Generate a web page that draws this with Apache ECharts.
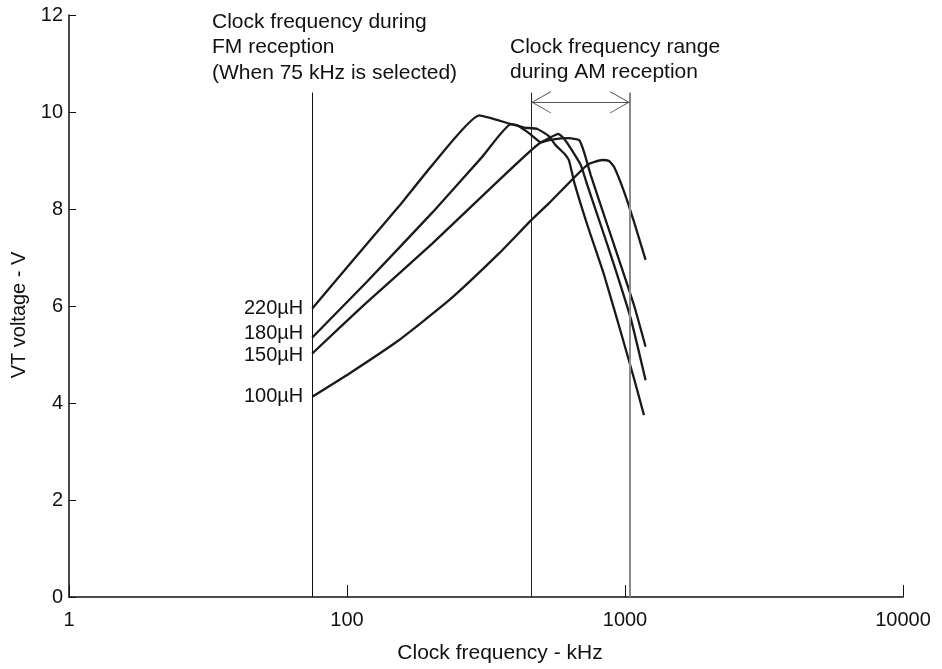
<!DOCTYPE html>
<html>
<head>
<meta charset="utf-8">
<script src="https://cdn.jsdelivr.net/npm/echarts@6/dist/echarts.min.js"></script>
<style>
html,body{margin:0;padding:0;background:#fff;}
#chart{width:942px;height:669px;}
</style>
</head>
<body>
<div id="chart"></div>
<script>
// ---- data ----
const xTickValues = [10, 100, 1000, 10000];
const xTickLabels = ['1', '100', '1000', '10000'];
const yMin = 0, yMax = 12, yStep = 2;

const seriesNames = ['220µH', '180µH', '150µH', '100µH'];

const freq220 = [75, 117, 154, 203, 299, 389, 434, 484, 533, 560, 610, 629, 656, 732, 841, 965, 1077, 1170];
const volt220 = [5.95, 7.26, 8.06, 8.91, 9.93, 9.75, 9.68, 9.65, 9.50, 9.33, 9.12, 9.00, 8.56, 7.67, 6.64, 5.47, 4.51, 3.75];

const freq180 = [75, 117, 203, 307, 389, 411, 455, 498, 540, 575, 604, 638, 693, 732, 818, 913, 1048, 1186];
const volt180 = [5.35, 6.48, 7.93, 9.08, 9.75, 9.72, 9.55, 9.38, 9.48, 9.55, 9.45, 9.25, 8.91, 8.49, 7.67, 6.85, 5.75, 4.47];

const freq150 = [75, 117, 203, 353, 491, 560, 629, 684, 712, 753, 864, 965, 1077, 1186];
const volt150 = [5.02, 6.06, 7.29, 8.60, 9.35, 9.44, 9.46, 9.42, 9.18, 8.70, 7.67, 6.85, 6.02, 5.16];

const freq100 = [75, 102, 154, 233, 353, 460, 533, 732, 829, 876, 913, 992, 1077, 1186];
const volt100 = [4.13, 4.61, 5.30, 6.12, 7.09, 7.77, 8.12, 8.91, 9.01, 8.99, 8.87, 8.36, 7.74, 6.95];

const fmClock = 75;            // kHz
const amRange = [460, 1040];   // kHz
const markerTop = 10.4;        // V, top of the marker lines
const arrowLevel = 10.2;       // V, level of the range arrow

const fmNote = ['Clock frequency during', 'FM reception', '(When 75 kHz is selected)'];
const amNote = ['Clock frequency range', 'during AM reception'];

// ---- chart ----
const FONT = "'Liberation Sans', Arial, sans-serif";
const INK = '#1a1a1a';
const chevron = 'path://M50,0 L100,97 L97,100 L50,9 L3,100 L0,97 Z M50,-100 L50.01,-100 Z';
const labelShift = [0, -4, 2, 0];

function pairs(fs, vs, name, k) {
  return fs.map((f, i) => {
    const item = { value: [f, vs[i]] };
    if (i === 0) {
      item.label = {
        show: true, position: 'left', distance: 9, offset: [0, labelShift[k]],
        formatter: name, color: '#111', fontSize: 20, fontFamily: FONT
      };
    }
    return item;
  });
}

const curveSets = [[freq220, volt220], [freq180, volt180], [freq150, volt150], [freq100, volt100]];

const series = curveSets.map((c, k) => ({
  name: seriesNames[k],
  type: 'line',
  data: pairs(c[0], c[1], seriesNames[k], k),
  smooth: 0.15,
  symbol: 'circle',
  symbolSize: 0,
  showSymbol: true,
  showAllSymbol: true,
  lineStyle: { color: INK, width: 2.3 },
  itemStyle: { color: INK },
  label: { show: false },
  emphasis: { disabled: true },
  silent: true,
  z: 3
}));

series.push({
  name: 'markers',
  type: 'line',
  data: [],
  silent: true,
  markLine: {
    silent: true,
    animation: false,
    symbol: ['none', 'none'],
    label: { show: false },
    emphasis: { disabled: true },
    data: [
      [{ coord: [fmClock, yMin], lineStyle: { color: '#111', width: 1, type: 'solid' } },
       { coord: [fmClock, markerTop] }],
      [{ coord: [amRange[0], yMin], lineStyle: { color: '#222', width: 1, type: 'solid' } },
       { coord: [amRange[0], markerTop] }],
      [{ coord: [amRange[1], yMin], lineStyle: { color: '#8a8a8a', width: 2, type: 'solid' } },
       { coord: [amRange[1], markerTop] }],
      [{ coord: [amRange[0], arrowLevel], symbol: chevron, symbolSize: [22, 40],
         lineStyle: { color: '#555', width: 1.2, type: 'solid' } },
       { coord: [amRange[1], arrowLevel], symbol: chevron, symbolSize: [22, 40] }]
    ]
  }
});

const chart = echarts.init(document.getElementById('chart'), null, { renderer: 'canvas' });
chart.setOption({
  backgroundColor: '#fff',
  animation: false,
  textStyle: { fontFamily: FONT },
  grid: { left: 69, right: 39, top: 15, bottom: 72, containLabel: false },
  xAxis: {
    type: 'log',
    logBase: 10,
    min: xTickValues[0],
    max: xTickValues[xTickValues.length - 1],
    name: 'Clock frequency - kHz',
    nameLocation: 'middle',
    nameGap: 46,
    nameTextStyle: { color: '#111', fontSize: 21, fontFamily: FONT, padding: [0, 0, 0, 28] },
    axisLine: { show: true, onZero: false, lineStyle: { color: '#111', width: 1.5 } },
    axisTick: { show: true, inside: true, length: 12, lineStyle: { color: '#111', width: 1 } },
    minorTick: { show: false },
    splitLine: { show: false },
    axisLabel: {
      color: '#111', fontSize: 20, fontFamily: FONT, margin: 13,
      formatter: v => {
        const i = xTickValues.findIndex(t => Math.abs(Math.log10(t) - Math.log10(v)) < 1e-6);
        return i >= 0 ? xTickLabels[i] : '';
      }
    }
  },
  yAxis: {
    type: 'value',
    min: yMin, max: yMax, interval: yStep,
    name: 'VT voltage - V',
    nameLocation: 'middle',
    nameGap: 40,
    nameRotate: 90,
    nameTextStyle: { color: '#111', fontSize: 20, fontFamily: FONT, padding: [0, 18, 0, 0] },
    axisLine: { show: true, lineStyle: { color: '#111', width: 1.5 } },
    axisTick: { show: true, inside: true, length: 7, lineStyle: { color: '#111', width: 1 } },
    splitLine: { show: false },
    axisLabel: { color: '#111', fontSize: 20, fontFamily: FONT, margin: 6 }
  },
  graphic: [
    {
      type: 'text', left: 212, top: 9, silent: true,
      style: { text: fmNote.join('\n'), fill: '#111', font: '21px ' + FONT, lineHeight: 25.5 }
    },
    {
      type: 'text', left: 510, top: 34, silent: true,
      style: { text: amNote.join('\n'), fill: '#111', font: '21px ' + FONT, lineHeight: 25.5 }
    }
  ],
  series: series
});
</script>
</body>
</html>
